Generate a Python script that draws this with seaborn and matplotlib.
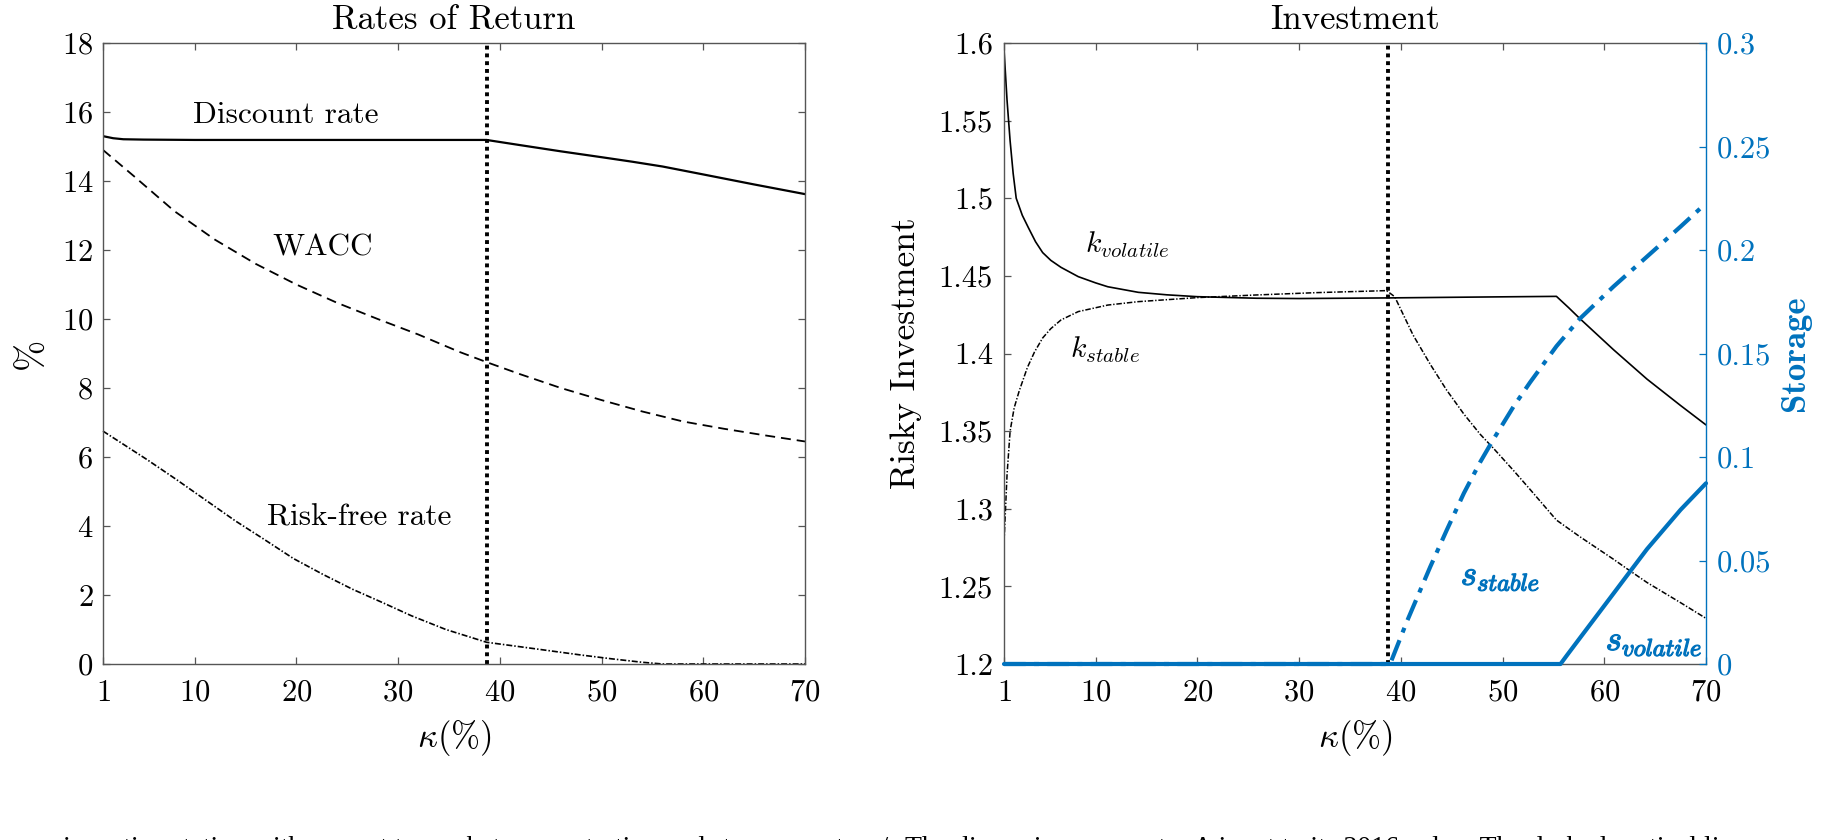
import matplotlib
matplotlib.use("Agg")
import matplotlib.pyplot as plt
import matplotlib.patheffects as pe
import seaborn as sns

# ---- data ----
# left panel: rates of return (%)
kappa_dr = [1, 2, 3, 5, 10, 20, 30, 38.7, 42, 46, 50, 53, 56, 60, 65, 70]
disc_rate = [15.3, 15.24, 15.21, 15.2, 15.19, 15.19, 15.19, 15.19, 15.04, 14.86,
             14.69, 14.56, 14.42, 14.19, 13.9, 13.62]

kappa_w = [1, 4, 8, 12, 16, 20, 24, 28, 32, 36, 38.7, 42, 46, 50, 54, 58, 62, 66, 70]
wacc = [14.9, 14.15, 13.13, 12.3, 11.6, 11.0, 10.47, 10.0, 9.55, 9.05, 8.75,
        8.4, 8.0, 7.65, 7.32, 7.03, 6.82, 6.63, 6.45]

kappa_rf = [1, 5.3, 8.2, 11, 14, 16.8, 19.7, 22.6, 25.5, 28.4, 31.3, 34.7, 38.7,
            42, 45, 48, 51, 54, 56, 60, 65, 70]
risk_free = [6.75, 5.93, 5.35, 4.77, 4.15, 3.62, 3.06, 2.6, 2.17, 1.79, 1.4, 1.0,
             0.63, 0.5, 0.38, 0.26, 0.15, 0.05, 0.0, 0.0, 0.0, 0.0]

# right panel: risky investment (left axis)
kappa_kv = [1, 1.3, 1.6, 1.9, 2.2, 2.8, 3.4, 4.1, 4.8, 5.6, 6.6, 8.3, 10, 11.2, 14.2,
            17, 20, 25.8, 30, 38.7, 45, 50, 55.3, 56.5, 57.6, 60.9, 64.2, 67.5, 70]
k_volatile = [1.596, 1.563, 1.537, 1.516, 1.5, 1.489, 1.481, 1.472, 1.465, 1.46,
              1.4555, 1.4495, 1.4455, 1.443, 1.4394, 1.4378, 1.4366, 1.4356, 1.4354,
              1.4358, 1.4362, 1.4365, 1.4368, 1.4295, 1.4225, 1.4025, 1.3835,
              1.3665, 1.354]

kappa_ks = [1, 1.3, 1.6, 2.0, 2.5, 3.3, 4.0, 4.8, 5.6, 6.6, 8.3, 11.2, 14.2, 20, 25.8,
            31.7, 38.6, 39.4, 41.2, 42.9, 44.5, 46.2, 47.8, 49.1, 51.1, 52.7, 55.3,
            57.6, 60.9, 62.2, 64.2, 67.5, 70]
k_stable = [1.278, 1.322, 1.35, 1.365, 1.376, 1.391, 1.401, 1.41, 1.416, 1.4216,
            1.427, 1.4312, 1.4334, 1.436, 1.4377, 1.4392, 1.4405, 1.4366, 1.412,
            1.393, 1.3765, 1.361, 1.348, 1.339, 1.3245, 1.3125, 1.2927, 1.282,
            1.2675, 1.2615, 1.2525, 1.2395, 1.2294]

# right panel: storage (right axis)
kappa_ss = [1, 38.95, 40.6, 42.9, 44.5, 46.2, 47.8, 49.1, 51.1, 52.7, 55.3, 57.6,
            60.9, 64.2, 67.5, 70]
s_stable = [0, 0, 0.0205, 0.047, 0.0645, 0.0825, 0.0975, 0.1085, 0.1245, 0.136,
            0.1535, 0.1668, 0.1823, 0.1968, 0.2113, 0.2226]

kappa_sv = [1, 55.7, 56.3, 57.6, 60.9, 62.2, 64.2, 67.5, 70]
s_volatile = [0, 0, 0.004, 0.0125, 0.034, 0.0425, 0.0555, 0.0745, 0.0873]

kappa_cut = 38.7

x_ticks = [1, 10, 20, 30, 40, 50, 60, 70]
rates_ticks = [0, 2, 4, 6, 8, 10, 12, 14, 16, 18]
inv_ticks = [1.2, 1.25, 1.3, 1.35, 1.4, 1.45, 1.5, 1.55, 1.6]
inv_labels = ["1.2", "1.25", "1.3", "1.35", "1.4", "1.45", "1.5", "1.55", "1.6"]
sto_ticks = [0, 0.05, 0.1, 0.15, 0.2, 0.25, 0.3]
sto_labels = ["0", "0.05", "0.1", "0.15", "0.2", "0.25", "0.3"]

BLUE = "#0072BD"
SPINE = "#555555"

sns.set_theme(style="ticks")
plt.rcParams.update({
    "font.family": "cmr10",
    "mathtext.fontset": "cm",
    "axes.unicode_minus": False,
    "axes.formatter.use_mathtext": True,
    "text.color": "black",
    "axes.labelcolor": "black",
    "axes.edgecolor": SPINE,
    "axes.linewidth": 1.0,
    "xtick.direction": "in",
    "ytick.direction": "in",
    "xtick.color": SPINE,
    "ytick.color": SPINE,
    "xtick.labelcolor": "black",
    "ytick.labelcolor": "black",
    "xtick.major.size": 5,
    "ytick.major.size": 5,
    "xtick.major.width": 0.9,
    "ytick.major.width": 0.9,
})

fig = plt.figure(figsize=(18.32, 8.4), dpi=100)
ax1 = fig.add_axes([103 / 1832, 176 / 840, 702 / 1832, 621 / 840])
ax2 = fig.add_axes([1004 / 1832, 176 / 840, 702 / 1832, 621 / 840])
ax2r = ax2.twinx()

TICK_FS = 22
TEXT_FS = 22.5
LABEL_FS = 25

# ---- left: Rates of Return ----
sns.lineplot(x=kappa_dr, y=disc_rate, ax=ax1, color="black", lw=1.6)
sns.lineplot(x=kappa_w, y=wacc, ax=ax1, color="black", lw=1.3,
             linestyle=(0, (5.5, 3.3)))
sns.lineplot(x=kappa_rf, y=risk_free, ax=ax1, color="black", lw=1.2,
             linestyle=(0, (3.6, 1.2, 0.9, 1.2)), clip_on=False)
ax1.axvline(kappa_cut, color="black", lw=2.8, linestyle=(0, (1.0, 1.0)))

ax1.set_xlim(1, 70)
ax1.set_ylim(0, 18)
ax1.set_xticks(x_ticks)
ax1.set_yticks(rates_ticks)
ax1.tick_params(axis="both", top=True, right=True, labelsize=TICK_FS)
ax1.tick_params(axis="x", pad=11)
ax1.tick_params(axis="y", pad=7)
ax1.set_title("Rates of Return", fontsize=LABEL_FS, pad=10)
ax1.set_xlabel(r"$\kappa(\%)$", fontsize=LABEL_FS, labelpad=8)
ax1.set_ylabel("%", fontsize=27, labelpad=9)

ax1.text(19, 15.9, "Discount rate", fontsize=TEXT_FS, ha="center", va="center")
ax1.text(22.6, 12.07, "WACC", fontsize=TEXT_FS, ha="center", va="center")
ax1.text(26.2, 4.25, "Risk-free rate", fontsize=TEXT_FS, ha="center", va="center")

# ---- right: Investment ----
sns.lineplot(x=kappa_kv, y=k_volatile, ax=ax2, color="black", lw=1.2)
sns.lineplot(x=kappa_ks, y=k_stable, ax=ax2, color="black", lw=1.1,
             linestyle=(0, (3.6, 1.2, 0.9, 1.2)))
ax2.axvline(kappa_cut, color="black", lw=2.8, linestyle=(0, (1.0, 1.0)))

sns.lineplot(x=kappa_ss, y=s_stable, ax=ax2r, color=BLUE, lw=3.0,
             linestyle=(0, (5.2, 2.0, 1.2, 2.0)), clip_on=False)
sns.lineplot(x=kappa_sv, y=s_volatile, ax=ax2r, color=BLUE, lw=3.0, clip_on=False)

ax2.set_xlim(1, 70)
ax2.set_ylim(1.2, 1.6)
ax2.set_xticks(x_ticks)
ax2.set_yticks(inv_ticks)
ax2.set_yticklabels(inv_labels)
ax2.tick_params(axis="both", labelsize=TICK_FS)
ax2.tick_params(axis="x", top=True, pad=11)
ax2.tick_params(axis="y", right=False, pad=8)
ax2.spines["right"].set_visible(False)
ax2.set_title("Investment", fontsize=LABEL_FS, pad=10)
ax2.set_xlabel(r"$\kappa(\%)$", fontsize=LABEL_FS, labelpad=8)
ax2.set_ylabel("Risky Investment", fontsize=25.5, labelpad=12)

ax2r.set_ylim(0, 0.3)
ax2r.set_yticks(sto_ticks)
ax2r.set_yticklabels(sto_labels)
ax2r.tick_params(axis="y", colors=BLUE, labelcolor=BLUE, labelsize=TICK_FS, pad=8)
for side in ["left", "top", "bottom"]:
    ax2r.spines[side].set_visible(False)
ax2r.spines["right"].set_color(BLUE)
ax2r.set_ylabel("Storage", fontsize=25, color=BLUE, family="cmb10", labelpad=6)

ax2.text(13.1, 1.470, r"$k_{volatile}$", fontsize=21.5, ha="center", va="center")
ax2.text(10.9, 1.4023, r"$k_{stable}$", fontsize=21.5, ha="center", va="center")
bold = [pe.withStroke(linewidth=0.9, foreground=BLUE)]
ax2r.text(49.8, 0.042, r"$s_{stable}$", fontsize=25, color=BLUE,
          ha="center", va="center", path_effects=bold)
ax2r.text(64.9, 0.0105, r"$s_{volatile}$", fontsize=25, color=BLUE,
          ha="center", va="center", path_effects=bold)

# caption cut off at the bottom of the image
fig.text(888 / 1832, -15 / 840,
         "incentive station with respect to market concentration and storage costs c /",
         family="Liberation Serif", fontsize=20, ha="right", va="baseline")
fig.text(905 / 1832, -15 / 840,
         "The dispersion parameter A is set to its 2016 value. The dashed vertical line",
         family="Liberation Serif", fontsize=20, ha="left", va="baseline")

fig.savefig("out.png", dpi=100)
